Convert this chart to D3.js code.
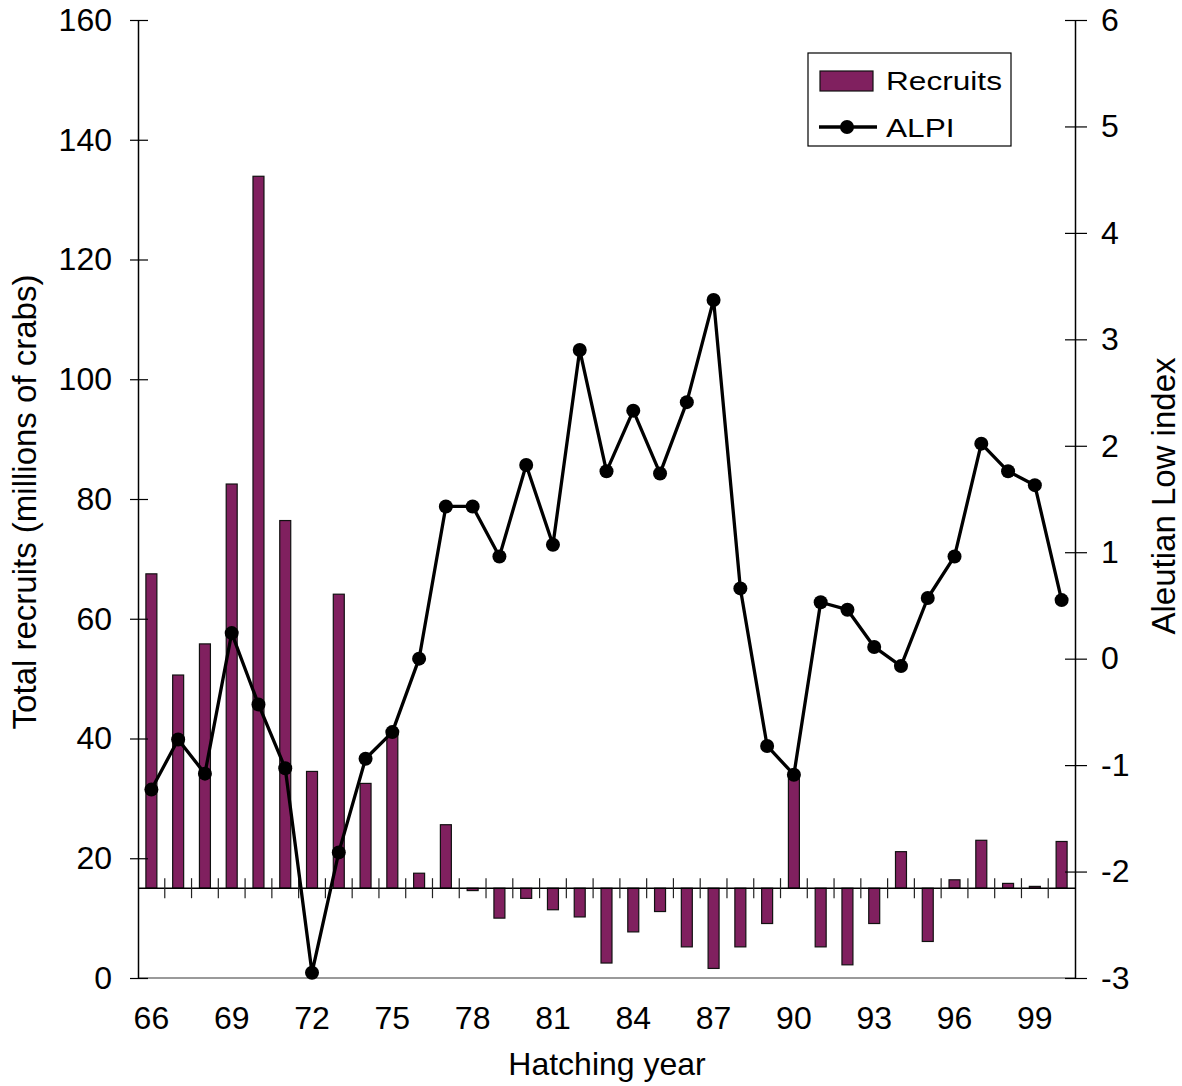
<!DOCTYPE html>
<html>
<head>
<meta charset="utf-8">
<script src="https://cdn.jsdelivr.net/npm/d3@7/dist/d3.min.js"></script>
<style>
  html, body { margin: 0; padding: 0; background: #fff; }
  svg { display: block; font-family: "Liberation Sans", Arial, sans-serif; }
</style>
</head>
<body>
<svg id="chart" width="1182" height="1086"></svg>
<script>
const years = d3.range(1966, 2001);
const tickYears = [1966, 1969, 1972, 1975, 1978, 1981, 1984, 1987, 1990, 1993, 1996, 1999];
const recruits = [67.5, 50.6, 55.8, 82.5, 133.9, 76.4, 34.5, 64.1, 32.5, 40.9,
                  17.5, 25.6, 14.6, 10.0, 13.3, 11.4, 10.2, 2.5, 7.7, 11.1,
                  5.2, 1.6, 5.2, 9.1, 33.9, 5.2, 2.2, 9.1, 21.1, 6.1,
                  16.4, 23.0, 15.8, 15.3, 22.8];
const alpi = [-1.23, -0.76, -1.08, 0.24, -0.43, -1.03, -2.95, -1.82, -0.94, -0.69,
              0.00, 1.43, 1.43, 0.96, 1.82, 1.07, 2.90, 1.76, 2.33, 1.74,
              2.41, 3.37, 0.66, -0.82, -1.09, 0.53, 0.46, 0.11, -0.07, 0.57,
              0.96, 2.02, 1.76, 1.63, 0.55];
const leftTicks = [0, 20, 40, 60, 80, 100, 120, 140, 160];
const rightTicks = [-3, -2, -1, 0, 1, 2, 3, 4, 5, 6];
const barBase = 15;

const BAR = "#80205f";
const L = 138, R = 1075, T = 20, B = 978;
const FONT = "'Liberation Sans', Arial, sans-serif";

const svg = d3.select("#chart");
const x = d3.scaleBand(years, [L, R]).paddingInner(0.59).paddingOuter(0.295);
const yL = d3.scaleLinear([0, 160], [B, T]);
const yR = d3.scaleLinear([-3, 6], [B, T]);

// bottom gray border
svg.append("line").attr("x1", L).attr("x2", R).attr("y1", B).attr("y2", B)
  .attr("stroke", "#9a9a9a").attr("stroke-width", 2);

// bars
svg.append("g").selectAll("rect").data(years).join("rect")
  .attr("x", d => x(d))
  .attr("width", x.bandwidth())
  .attr("y", (d, i) => Math.min(yL(recruits[i]), yL(barBase)))
  .attr("height", (d, i) => Math.abs(yL(recruits[i]) - yL(barBase)))
  .attr("fill", BAR).attr("stroke", "#111").attr("stroke-width", 1.2);

// category axis crossing at 15
const cy = yL(barBase);
svg.append("line").attr("x1", L).attr("x2", R).attr("y1", cy).attr("y2", cy)
  .attr("stroke", "#000").attr("stroke-width", 1.5);
const bounds = years.slice(1).map(d => x(d) + x.bandwidth() / 2 - x.step() / 2);
svg.append("g").selectAll("line").data(bounds).join("line")
  .attr("x1", d => d).attr("x2", d => d)
  .attr("y1", cy - 10).attr("y2", cy + 10)
  .attr("stroke", "#222").attr("stroke-width", 1.2);

// left axis
const gL = svg.append("g").attr("transform", `translate(${L},0)`)
  .call(d3.axisLeft(yL).tickValues(leftTicks).tickSize(0).tickPadding(26).tickFormat(d => String(d)));
gL.select(".domain").attr("stroke", "#000").attr("stroke-width", 1.5);
gL.selectAll(".tick line").attr("x1", -8).attr("x2", 10).attr("stroke", "#000").attr("stroke-width", 1.2);
gL.selectAll(".tick text").attr("font-size", 32).attr("fill", "#000").attr("font-family", FONT);

// right axis
const gR = svg.append("g").attr("transform", `translate(${R},0)`)
  .call(d3.axisRight(yR).tickValues(rightTicks).tickSize(0).tickPadding(26).tickFormat(d => String(d)));
gR.select(".domain").attr("stroke", "#000").attr("stroke-width", 1.5);
gR.selectAll(".tick line").attr("x1", -10).attr("x2", 12).attr("stroke", "#000").attr("stroke-width", 1.2);
gR.selectAll(".tick text").attr("font-size", 32).attr("fill", "#000").attr("font-family", FONT);

// bottom labels
const gB = svg.append("g").attr("transform", `translate(0,${B})`)
  .call(d3.axisBottom(x).tickValues(tickYears).tickSize(0).tickPadding(28)
    .tickFormat(d => String(d % 100).padStart(2, "0")));
gB.select(".domain").remove();
gB.selectAll(".tick text").attr("font-size", 32).attr("fill", "#000").attr("font-family", FONT);

// ALPI line
const line = d3.line().x((d, i) => x(years[i]) + x.bandwidth() / 2).y(d => yR(d));
svg.append("path").datum(alpi).attr("d", line)
  .attr("fill", "none").attr("stroke", "#000").attr("stroke-width", 3.3)
  .attr("stroke-linejoin", "round");
svg.append("g").selectAll("circle").data(alpi).join("circle")
  .attr("cx", (d, i) => x(years[i]) + x.bandwidth() / 2)
  .attr("cy", d => yR(d)).attr("r", 7).attr("fill", "#000");

// axis titles
svg.append("text").attr("transform", "translate(36,502) rotate(-90)")
  .attr("text-anchor", "middle").attr("font-size", 33).text("Total recruits (millions of crabs)");
svg.append("text").attr("transform", "translate(1175,496) rotate(-90)")
  .attr("text-anchor", "middle").attr("font-size", 33).text("Aleutian Low index");
svg.append("text").attr("x", 607).attr("y", 1075)
  .attr("text-anchor", "middle").attr("font-size", 32).text("Hatching year");

// legend
const lg = svg.append("g");
lg.append("rect").attr("x", 808).attr("y", 53).attr("width", 203).attr("height", 93)
  .attr("fill", "#fff").attr("stroke", "#000").attr("stroke-width", 1.2);
lg.append("rect").attr("x", 820).attr("y", 71).attr("width", 53).attr("height", 20)
  .attr("fill", BAR).attr("stroke", "#111").attr("stroke-width", 1.2);
lg.append("text").attr("transform", "translate(886,90) scale(1.24,1)")
  .attr("font-size", 25.5).text("Recruits");
lg.append("line").attr("x1", 819).attr("x2", 877).attr("y1", 127).attr("y2", 127)
  .attr("stroke", "#000").attr("stroke-width", 3.3);
lg.append("circle").attr("cx", 847).attr("cy", 127).attr("r", 7).attr("fill", "#000");
lg.append("text").attr("transform", "translate(886,137) scale(1.24,1)")
  .attr("font-size", 25.5).text("ALPI");
</script>
</body>
</html>
